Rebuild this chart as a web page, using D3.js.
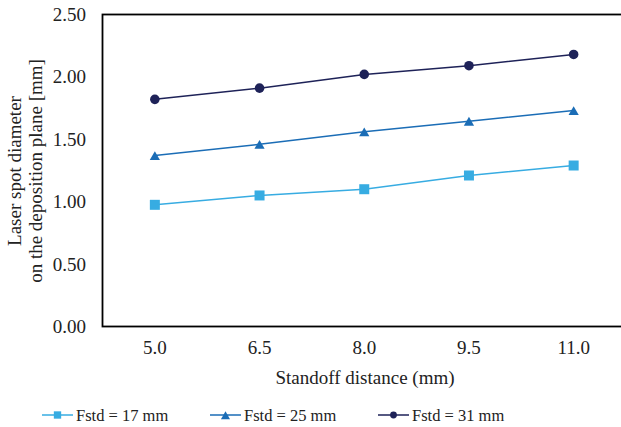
<!DOCTYPE html>
<html><head><meta charset="utf-8">
<script src="https://cdn.jsdelivr.net/npm/d3@7"></script>
<style>body{margin:0;background:#fff}svg{display:block}text{font-family:"Liberation Serif","Times New Roman",serif;fill:#222}</style>
</head><body><svg id="c" width="621" height="427"></svg>
<script>
const categories = ["5.0","6.5","8.0","9.5","11.0"];
const seriesNames = ["Fstd = 17 mm","Fstd = 25 mm","Fstd = 31 mm"];
const fstd17 = [0.975,1.05,1.10,1.21,1.29];
const fstd25 = [1.37,1.46,1.56,1.645,1.73];
const fstd31 = [1.82,1.91,2.02,2.09,2.18];
const yTicks = [0,0.5,1,1.5,2,2.5];
const colors = ["#37ace2","#1b6db6","#1e2258"];
const shapes = [d3.symbolSquare, d3.symbolTriangle, d3.symbolCircle];

const svg = d3.select("#c");
const pL=102.5, pR=626, pT=14.5, pB=326.5;
const x = d3.scaleBand().domain(categories).range([pL,pR]);
const y = d3.scaleLinear().domain([0,2.5]).range([pB,pT]);

// frame
svg.append("rect").attr("x",pL).attr("y",pT).attr("width",pR-pL).attr("height",pB-pT)
  .attr("fill","none").attr("stroke","#000").attr("stroke-width",1.8);

// y axis
const ya = svg.append("g").attr("transform",`translate(${pL},0)`)
  .call(d3.axisLeft(y).tickValues(yTicks).tickFormat(d3.format(".2f")).tickSize(0).tickPadding(16.5));
ya.select(".domain").remove();
ya.selectAll("text").attr("font-size",19).attr("font-family","Liberation Serif").attr("fill","#222");

// x axis
const xa = svg.append("g").attr("transform",`translate(0,${pB})`)
  .call(d3.axisBottom(x).tickSize(0).tickPadding(14.5));
xa.select(".domain").remove();
xa.selectAll("text").attr("font-size",19).attr("font-family","Liberation Serif").attr("fill","#222");

// titles
svg.append("text").attr("x",365).attr("y",383.5).attr("text-anchor","middle").attr("font-size",19).text("Standoff distance (mm)");
const yt = svg.append("text").attr("transform",`translate(0,171) rotate(-90)`).attr("text-anchor","middle").attr("font-size",19);
yt.append("tspan").attr("x",0).attr("y",21).text("Laser spot diameter");
yt.append("tspan").attr("x",0).attr("y",42).text("on the deposition plane [mm]");

// series
const all = [fstd17,fstd25,fstd31];
const sizes = [100,45,72];
const offs = [0,1.5,0];
const line = d3.line().x((d,i)=>x(categories[i])+x.bandwidth()/2).y(d=>y(d));
all.forEach((vals,k)=>{
  svg.append("path").attr("d",line(vals)).attr("fill","none").attr("stroke",colors[k]).attr("stroke-width",1.5);
  svg.selectAll(null).data(vals).enter().append("path")
    .attr("transform",(d,i)=>`translate(${x(categories[i])+x.bandwidth()/2},${y(d)+offs[k]})`)
    .attr("d",d3.symbol().type(shapes[k]).size(sizes[k])).attr("fill",colors[k]);
});

// legend
const legX = [42,210,378];
const lsizes = [54,36,36];
seriesNames.forEach((n,k)=>{
  const g = svg.append("g").attr("transform",`translate(${legX[k]},415)`);
  g.append("line").attr("x1",0).attr("x2",31).attr("stroke",colors[k]).attr("stroke-width",1.5);
  g.append("path").attr("transform",`translate(15.5,${offs[k]})`).attr("d",d3.symbol().type(shapes[k]).size(lsizes[k])).attr("fill",colors[k]);
  g.append("text").attr("x",34).attr("y",5.5).attr("font-size",16.5).text(n);
});
</script></body></html>
